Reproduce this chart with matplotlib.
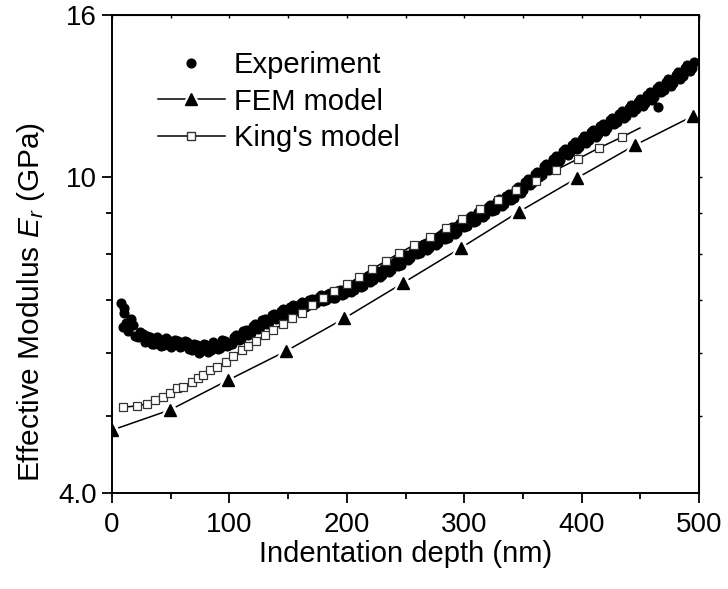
import matplotlib
matplotlib.use("Agg")
import matplotlib.pyplot as plt
from matplotlib.ticker import FixedLocator, NullFormatter, NullLocator

plt.rcParams['font.family'] = ['Liberation Sans', 'DejaVu Sans']
plt.rcParams['mathtext.fontset'] = 'custom'
plt.rcParams['mathtext.rm'] = 'Liberation Sans'
plt.rcParams['mathtext.it'] = 'Liberation Sans:italic'

exp_depth_a = [8, 9.5, 10.5, 12, 14, 16, 20, 24, 28, 32, 36, 40, 44, 48, 52, 56, 60, 64, 68, 72,
               76, 80, 84, 88, 92, 96, 100, 104, 108, 112, 116, 120, 124, 128, 132, 136, 140,
               144, 148, 152, 156, 160, 164, 168, 172, 176, 180, 184, 188, 192, 196, 200, 204,
               208, 212, 216, 220, 224, 228, 232, 236, 240, 244, 248, 252, 256, 260, 264, 268,
               272, 276, 280, 284, 288, 292, 296, 300, 304, 308, 312, 316, 320, 324, 328, 332,
               336, 340, 344, 348, 352, 356, 360, 364, 368, 372, 376, 380, 384, 388, 392, 396,
               400, 404, 408, 412, 416, 420, 424, 428, 432, 436, 440, 444, 448, 452, 456, 460,
               464, 465, 468, 472, 476, 480, 484, 488, 492, 496]
exp_mod_a = [6.95, 6.48, 6.75, 6.55, 6.4, 6.62, 6.31, 6.38, 6.19, 6.29, 6.17, 6.26, 6.14, 6.24,
             6.15, 6.22, 6.12, 6.19, 6.06, 6.15, 6.03, 6.14, 6.05, 6.17, 6.09, 6.21, 6.15, 6.29,
             6.23, 6.39, 6.33, 6.5, 6.44, 6.6, 6.53, 6.7, 6.63, 6.79, 6.71, 6.86, 6.8, 6.93, 6.87,
             7.01, 6.93, 7.07, 6.99, 7.13, 7.04, 7.19, 7.1, 7.24, 7.17, 7.34, 7.28, 7.45, 7.38,
             7.56, 7.48, 7.68, 7.6, 7.8, 7.72, 7.93, 7.86, 8.08, 7.99, 8.2, 8.1, 8.33, 8.22, 8.46,
             8.35, 8.6, 8.48, 8.74, 8.64, 8.88, 8.77, 9.03, 8.91, 9.16, 9.05, 9.33, 9.2, 9.47,
             9.36, 9.65, 9.56, 9.87, 9.77, 10.1, 9.99, 10.32, 10.2, 10.55, 10.42, 10.78, 10.66,
             10.99, 10.85, 11.18, 11.05, 11.39, 11.24, 11.59, 11.44, 11.8, 11.65, 12.02, 11.86,
             12.22, 12.08, 12.45, 12.3, 12.69, 12.52, 12.93, 12.25, 12.78, 13.16, 13.02, 13.43,
             13.3, 13.72, 13.6, 13.98]
exp_depth_b = [10, 14, 18, 22, 26, 30, 34, 38, 42, 46, 50, 54, 58, 62, 66, 70, 74, 78, 82, 86,
               90, 94, 98, 102, 106, 110, 114, 118, 122, 126, 130, 134, 138, 142, 146, 150,
               154, 158, 162, 166, 170, 174, 178, 182, 186, 190, 194, 198, 202, 206, 210, 214,
               218, 222, 226, 230, 234, 238, 242, 246, 250, 254, 258, 262, 266, 270, 274, 278,
               282, 286, 290, 294, 298, 302, 306, 310, 314, 318, 322, 326, 330, 334, 338, 342,
               346, 350, 354, 358, 362, 366, 370, 374, 378, 382, 386, 390, 394, 398, 402, 406,
               410, 414, 418, 422, 426, 430, 434, 438, 442, 446, 450, 454, 458, 462, 466, 470,
               474, 478, 482, 486, 490, 494]
exp_mod_b = [6.85, 6.45, 6.52, 6.28, 6.35, 6.31, 6.16, 6.28, 6.13, 6.27, 6.11, 6.24, 6.1, 6.22,
             6.08, 6.17, 6.0, 6.16, 6.02, 6.19, 6.07, 6.23, 6.12, 6.17, 6.33, 6.26, 6.42, 6.36,
             6.53, 6.47, 6.63, 6.56, 6.73, 6.66, 6.82, 6.74, 6.9, 6.82, 6.96, 6.88, 7.03, 6.94,
             7.1, 7.0, 7.15, 7.05, 7.21, 7.12, 7.28, 7.2, 7.39, 7.3, 7.5, 7.41, 7.61, 7.52, 7.73,
             7.63, 7.85, 7.75, 7.98, 7.9, 8.12, 8.03, 8.24, 8.14, 8.37, 8.27, 8.5, 8.39, 8.64,
             8.52, 8.78, 8.68, 8.93, 8.81, 9.07, 8.96, 9.22, 9.1, 9.37, 9.25, 9.53, 9.42, 9.72,
             9.63, 9.94, 9.83, 10.16, 10.06, 10.39, 10.28, 10.62, 10.52, 10.86, 10.74, 11.06,
             10.92, 11.27, 11.12, 11.47, 11.32, 11.68, 11.52, 11.88, 11.73, 12.1, 11.95, 12.32,
             12.17, 12.55, 12.4, 12.8, 12.63, 13.03, 12.88, 13.28, 13.12, 13.56, 13.41, 13.86,
             13.72]

fem_depth = [0, 49.5, 99, 148.5, 198, 247.5, 297, 346.5, 396, 445.5, 495]
fem_mod = [4.80, 5.09, 5.55, 6.04, 6.64, 7.35, 8.14, 9.04, 9.97, 10.97, 11.94]

king_depth = [9.7, 21.3, 29.8, 36.6, 43.4, 49.4, 55.4, 60.5, 68.1, 73.3, 77.5, 83.5, 89.4,
              97.1, 103.1, 110.7, 115.8, 122.7, 130.3, 137.1, 145.7, 153.3, 161.8, 170.4,
              179.7, 189.1, 200.2, 210.4, 221.5, 233.4, 244.5, 257.2, 270.9, 284.5, 298.1,
              313.5, 328.8, 344.1, 361.2, 378.2, 396.9, 414.8, 434.4, 449.7]
king_mod = [5.13, 5.15, 5.18, 5.24, 5.28, 5.35, 5.42, 5.44, 5.52, 5.58, 5.63, 5.71, 5.76,
            5.85, 5.95, 6.06, 6.13, 6.22, 6.32, 6.42, 6.53, 6.64, 6.74, 6.90, 7.04, 7.19,
            7.33, 7.48, 7.66, 7.84, 8.02, 8.21, 8.40, 8.63, 8.85, 9.11, 9.36, 9.63, 9.89,
            10.21, 10.54, 10.88, 11.23, 11.53]

fig = plt.figure(figsize=(7.28, 5.89), dpi=100)
ax = fig.add_axes([112/728, 1-493/589, 587/728, 478/589])

# FEM: line broken around each marker (white halo under the triangles)
ax.plot(fem_depth, fem_mod, '-', color='black', lw=1.1, zorder=2)
ax.plot(fem_depth, fem_mod, '^', ms=18, color='white', mec='white', zorder=2.5)
ax.plot(fem_depth, fem_mod, '^', ms=8.5, color='black', zorder=3)

ax.plot(exp_depth_a + exp_depth_b, exp_mod_a + exp_mod_b, 'o', ms=6.3, color='black',
        mec='black', lw=0, zorder=4)

ax.plot(king_depth, king_mod, '-', color='black', lw=1.1, zorder=5)
ax.plot(king_depth[:-1], king_mod[:-1], 's', ms=6.4, mfc='white', mec='#333333',
        mew=0.9, zorder=6)

ax.set_yscale('log')
ax.set_xlim(0, 500)
ax.set_ylim(4, 16)
ax.yaxis.set_major_locator(FixedLocator([4, 10, 16]))
ax.yaxis.set_minor_locator(FixedLocator([5, 6, 7, 8, 9]))
ax.yaxis.set_minor_formatter(NullFormatter())
ax.set_yticklabels(['4.0', '10', '16'])
ax.set_xticks([0, 100, 200, 300, 400, 500])
ax.xaxis.set_minor_locator(FixedLocator([50, 150, 250, 350, 450]))

for s in ax.spines.values():
    s.set_linewidth(1.4)
ax.tick_params(which='major', direction='out', length=7, width=1.3, labelsize=20)
ax.tick_params(axis='x', which='major', pad=7)
ax.tick_params(axis='y', which='major', pad=4)
ax.tick_params(which='minor', direction='out', length=4.5, width=1.3)

top = ax.secondary_xaxis('top')
top.set_xticks([0, 50, 100, 150, 200, 250, 300, 350, 400, 450, 500])
top.xaxis.set_minor_locator(NullLocator())
top.tick_params(direction='in', length=2, width=1, labeltop=False)
right = ax.secondary_yaxis('right')
right.set_yticks([5, 6, 7, 8, 9, 10])
right.yaxis.set_minor_locator(NullLocator())
right.tick_params(direction='out', length=2, width=1, labelright=False)

ax.set_xlabel('Indentation depth (nm)', fontsize=21, labelpad=1)
ax.set_ylabel('Effective Modulus $E_r$ (GPa)', fontsize=21.5)
ax.yaxis.set_label_coords(-0.11, 0.40)

h1, = ax.plot([], [], 'o', ms=6.3, color='black')
fem_line, = ax.plot([], [], '-', color='black', lw=1.1)
fem_halo, = ax.plot([], [], '^', ms=16, color='white', mec='white')
fem_mark, = ax.plot([], [], '^', ms=8.5, color='black')
h3, = ax.plot([], [], '-s', ms=6.4, mfc='white', mec='#333333', color='black', lw=1.1)
ax.legend([h1, (fem_line, fem_halo, fem_mark), h3], ['Experiment', 'FEM model', "King's model"],
          loc='upper left', bbox_to_anchor=(0.078, 0.925), frameon=False, fontsize=21,
          handlelength=2.3, handletextpad=0.3, labelspacing=0.3, borderpad=0,
          borderaxespad=0)

fig.savefig('out.png', dpi=100)
